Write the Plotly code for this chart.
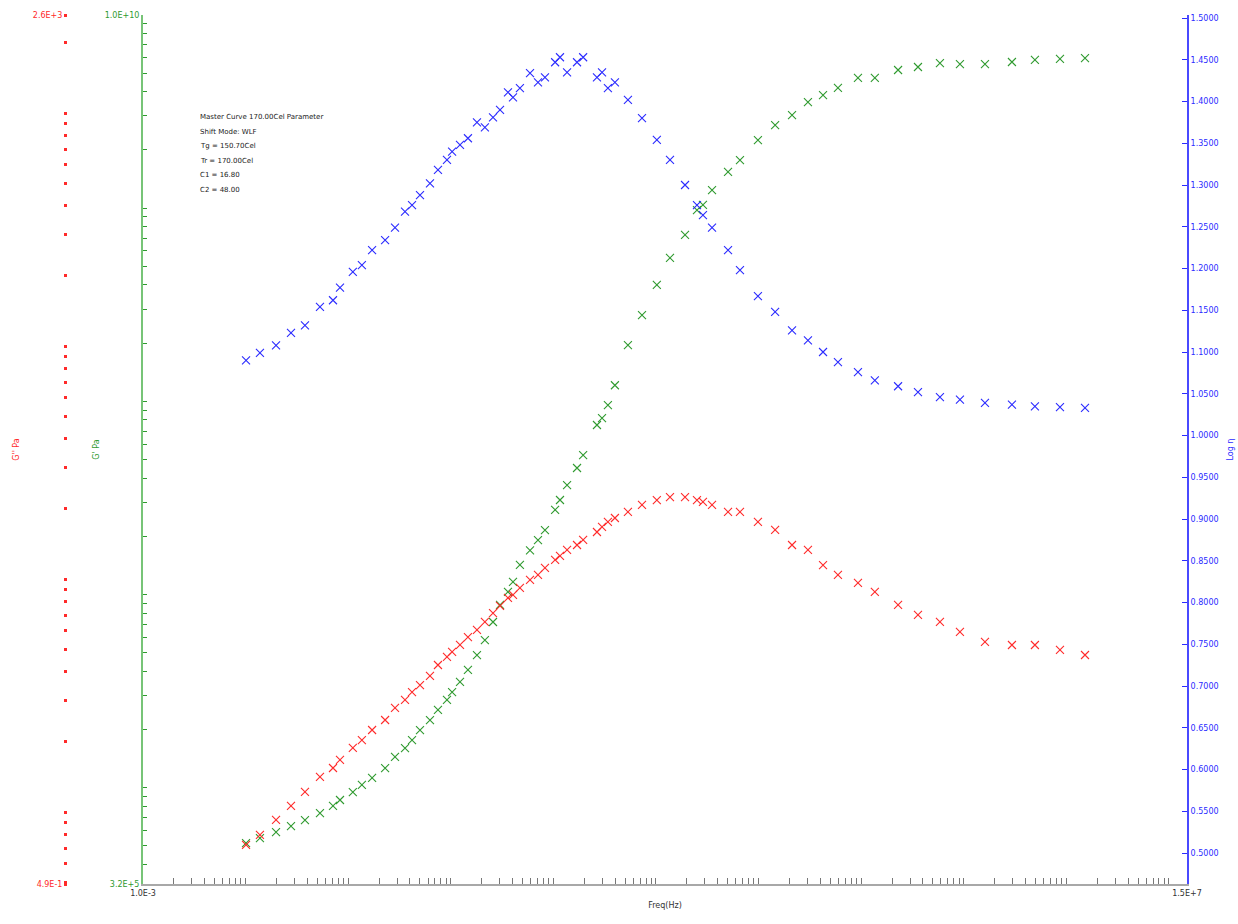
import numpy as np
import plotly.graph_objects as go

# ---------------- data ----------------
freq = [1.01e-2, 1.38e-2, 1.98e-2, 2.77e-2, 3.79e-2, 5.31e-2, 7.11e-2, 8.32e-2,
        0.111, 0.136, 0.171, 0.229, 0.286, 0.358, 0.419, 0.501, 0.627, 0.750, 0.918,
        1.03, 1.23, 1.47, 1.80, 2.15, 2.58, 3.02, 3.61, 4.04, 4.72, 5.92, 7.08, 8.28,
        10.4, 11.6, 13.6, 17.0, 19.5, 26.6, 29.8, 34.0, 39.8, 53.3, 73.1,
        102, 137, 192, 251, 287, 352, 504, 659, 986,
        1450, 2120, 3030, 4250, 5940, 9310,
        1.36e4, 2.29e4, 3.58e4, 5.86e4, 9.18e4, 1.61e5, 2.95e5, 4.94e5, 8.67e5, 1.52e6]

loss_modulus = [0.723, 0.798, 0.925, 1.062, 1.219, 1.416, 1.545, 1.675,
                1.884, 2.037, 2.249, 2.483, 2.799, 3.027, 3.273, 3.508, 3.837, 4.276, 4.634,
                4.864, 5.212, 5.636, 6.053, 6.546, 7.145, 7.674, 8.299, 8.551, 9.162, 9.908, 10.42, 11.17,
                12.08, 12.56, 13.34, 14.00, 14.72, 15.92, 16.75, 17.58, 18.28, 19.41, 20.80,
                21.83, 22.49, 22.49, 21.83, 21.43, 20.80, 19.41, 19.41, 17.58,
                16.26, 14.00, 13.34, 11.48, 10.42, 9.62,
                8.81, 7.74, 7.01, 6.55, 5.93, 5.37, 5.21, 5.21, 4.97, 4.72]

storage_modulus = [5.15e5, 5.47e5, 5.87e5, 6.31e5, 6.78e5, 7.36e5, 8.02e5, 8.61e5,
                   9.46e5, 1.03e6, 1.12e6, 1.26e6, 1.44e6, 1.60e6, 1.76e6, 1.98e6, 2.23e6, 2.52e6, 2.84e6,
                   3.12e6, 3.52e6, 4.06e6, 4.85e6, 5.79e6, 7.19e6, 8.81e6, 1.03e7, 1.16e7, 1.42e7, 1.69e7, 1.91e7, 2.15e7,
                   2.74e7, 3.08e7, 3.68e7, 4.51e7, 5.26e7, 7.53e7, 8.18e7, 9.55e7, 1.21e8, 1.95e8, 2.79e8,
                   4.00e8, 5.52e8, 7.26e8, 9.77e8, 1.04e9, 1.24e9, 1.54e9, 1.77e9, 2.25e9,
                   2.69e9, 3.03e9, 3.54e9, 3.85e9, 4.19e9, 4.72e9,
                   4.72e9, 5.19e9, 5.38e9, 5.64e9, 5.57e9, 5.57e9, 5.71e9, 5.85e9, 5.92e9, 5.98e9]

log_eta = [1.090, 1.099, 1.108, 1.123, 1.132, 1.154, 1.162, 1.177,
           1.196, 1.204, 1.222, 1.234, 1.249, 1.268, 1.276, 1.288, 1.302, 1.318, 1.330,
           1.340, 1.348, 1.356, 1.375, 1.369, 1.381, 1.390, 1.411, 1.405, 1.416, 1.434, 1.423, 1.429,
           1.447, 1.453, 1.435, 1.447, 1.453, 1.429, 1.435, 1.416, 1.423, 1.402, 1.380,
           1.354, 1.330, 1.300, 1.276, 1.264, 1.249, 1.222, 1.198, 1.167,
           1.148, 1.126, 1.114, 1.100, 1.088, 1.076,
           1.066, 1.059, 1.052, 1.046, 1.043, 1.039, 1.037, 1.035, 1.034, 1.033]

info_lines = ["Master Curve 170.00Cel Parameter",
              "Shift Mode: WLF",
              "Tg = 150.70Cel",
              "Tr = 170.00Cel",
              "C1 = 16.80",
              "C2 = 48.00"]

x_range_labels = ["1.0E-3", "1.5E+7"]
red_range_labels = ["4.9E-1", "2.6E+3"]
green_range_labels = ["3.2E+5", "1.0E+10"]

# ---------------- layout helpers ----------------
W, H = 1238, 924
X0, X1 = 143 / W, 1187 / W
Y0, Y1 = (H - 884) / H, (H - 15) / H

RED = "#ff2a2a"
GREEN = "#2f9a2f"
BLUE = "#2b2bff"
FONT = "DejaVu Sans"

XR = [-3.0, float(np.log10(1.5e7))]
RR = [-0.309, 3.421]
GR = [5.5, 10.0]
BR = [0.4629, 1.5036]


def minor_vals(lo, hi):
    vals = []
    for k in range(int(np.floor(lo)) - 1, int(np.ceil(hi)) + 1):
        for n in range(1, 10):
            v = n * 10.0 ** k
            if 10 ** lo * 1.0001 < v < 10 ** hi * 0.9999:
                vals.append(v)
    return vals


marker_common = dict(symbol="x-thin", size=8)

fig = go.Figure()
fig.add_trace(go.Scatter(x=freq, y=loss_modulus, mode="markers", yaxis="y2", name="G''",
                         marker=dict(**marker_common, color=RED, line=dict(color=RED, width=1.1))))
fig.add_trace(go.Scatter(x=freq, y=storage_modulus, mode="markers", yaxis="y", name="G'",
                         marker=dict(**marker_common, color=GREEN, line=dict(color=GREEN, width=1.1))))
fig.add_trace(go.Scatter(x=freq, y=log_eta, mode="markers", yaxis="y3", name="Log η",
                         marker=dict(**marker_common, color=BLUE, line=dict(color=BLUE, width=1.1))))

annotations = []
for i, line in enumerate(info_lines):
    annotations.append(dict(text=line, xref="paper", yref="paper", x=198 / W,
                            y=(H - 111 - i * 14.6) / H, xanchor="left", yanchor="top",
                            showarrow=False, font=dict(family=FONT, size=7, color="#222")))

fig.update_layout(
    width=W, height=H,
    margin=dict(l=0, r=0, t=0, b=0, autoexpand=False),
    paper_bgcolor="white", plot_bgcolor="white",
    showlegend=False,
    font=dict(family=FONT, size=8),
    xaxis=dict(type="log", range=XR, domain=[X0, X1], showgrid=False, zeroline=False,
               automargin=False,
               showline=True, linecolor="#a8a8a8", linewidth=2,
               tickmode="array", tickvals=[10 ** XR[0], 10 ** XR[1]], ticktext=x_range_labels,
               ticks="", tickfont=dict(size=8, color="#333"),
               minor=dict(tickmode="array", tickvals=minor_vals(*XR), ticks="inside",
                          ticklen=6, tickwidth=1, tickcolor="#777", showgrid=False),
               title=dict(text="Freq(Hz)", font=dict(size=8, color="#333"), standoff=6)),
    yaxis=dict(type="log", range=GR, domain=[Y0, Y1], anchor="x", side="left",
               showgrid=False, zeroline=False, automargin=False,
               showline=True, linecolor="#77c477", linewidth=2,
               tickmode="array", tickvals=[10 ** GR[0], 10 ** GR[1]], ticktext=green_range_labels,
               ticks="", tickfont=dict(size=8, color=GREEN),
               minor=dict(tickmode="array", tickvals=minor_vals(*GR), ticks="inside",
                          ticklen=4, tickwidth=1, tickcolor=GREEN, showgrid=False),
               title=dict(text="G' Pa", font=dict(size=8, color=GREEN), standoff=4)),
    yaxis2=dict(type="log", range=RR, overlaying="y", anchor="free", position=67 / W, side="left",
                showgrid=False, zeroline=False, showline=False, automargin=False,
                tickmode="array", tickvals=[10 ** RR[0], 10 ** RR[1]], ticktext=red_range_labels,
                ticks="outside", ticklen=3, tickwidth=3, tickcolor=RED,
                tickfont=dict(size=8, color=RED),
                minor=dict(tickmode="array", tickvals=minor_vals(*RR), ticks="outside",
                           ticklen=3, tickwidth=3, tickcolor=RED, showgrid=False),
                title=dict(text="G'' Pa", font=dict(size=8, color=RED), standoff=11)),
    yaxis3=dict(range=BR, overlaying="y", anchor="x", side="right",
                showgrid=False, zeroline=False, automargin=False,
                showline=True, linecolor="#4a4aff", linewidth=2,
                tickmode="linear", tick0=0.5, dtick=0.05, tickformat=".4f",
                ticks="inside", ticklen=5, tickwidth=1, tickcolor=BLUE,
                tickfont=dict(size=8, color=BLUE),
                title=dict(text="Log η", font=dict(size=8, color=BLUE), standoff=10)),
    annotations=annotations,
)

fig.write_html("out.html")
